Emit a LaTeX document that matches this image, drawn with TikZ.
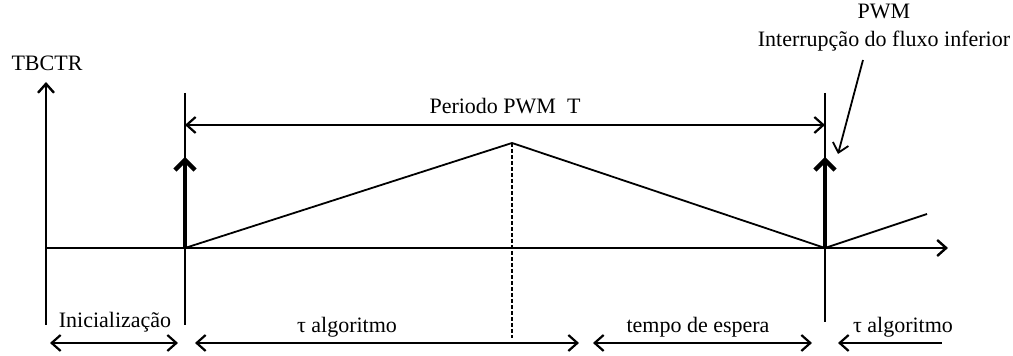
\documentclass[tikz,border=0pt]{standalone}
\usepackage{fontspec}
\setmainfont{Liberation Serif}
\usetikzlibrary{arrows.meta,positioning}

\begin{document}
\begin{tikzpicture}[x=0.5pt,y=-0.5pt,>={Straight Barb[length=4.5pt,width=8pt]}, every node/.style={font=\fontsize{11}{13}\selectfont,inner sep=1pt}]
\useasboundingbox (0,0) rectangle (1013,356);
% eixos
\coordinate (o) at (46,248);
\coordinate (ytop) at (46,82);
\coordinate (ybot) at (46,325);
\coordinate (xend) at (948,248);
\node (tbctr) at (47,63) {TBCTR};
\draw[line width=1.2pt,->] (o) -- (ytop);
\draw[line width=1.2pt,->] (o) -- (xend);
\draw[line width=0.8pt] (o) -- (ybot);
% marcas do periodo
\coordinate (a) at (185,248);
\coordinate (atop) at (185,93);
\coordinate (abot) at (185,325);
\coordinate (b) at (825,248);
\coordinate (btop) at (825,93);
\coordinate (bbot) at (825,322);
\coordinate (pk) at (512,143);
\coordinate (pkbot) at (512,338);
\coordinate (nx) at (927,214);
\draw[line width=0.8pt] (atop) -- (abot);
\draw[line width=0.8pt] (btop) -- (bbot);
\draw[line width=2.2pt,-{Straight Barb[length=5pt,width=10pt]}] (a) -- (185,157);
\draw[line width=2.2pt,-{Straight Barb[length=5pt,width=10pt]}] (b) -- (825,157);
% contador
\draw[line width=0.9pt] (a) -- (pk) -- (b) -- (nx);
\draw[line width=0.7pt,dash pattern=on 2pt off 1pt] (pk) -- (pkbot);
% periodo
\coordinate (p1) at (185,125);
\coordinate (p2) at (825,125);
\draw[line width=1.1pt,<->] (p1) -- node[above=4pt] (per) {Periodo PWM\ \ T} (p2);
% interrupcao
\node[align=center,font=\fontsize{11}{14}\selectfont] (pwm) at (884,28) {PWM\\Interrupção do fluxo inferior};
\coordinate (irq) at (838,154);
\draw[line width=0.9pt,->] (863,60) -- (irq);
% intervalos
\node (ini) at (115,322) {Inicialização};
\node (alg1) at (347,327) {τ algoritmo};
\node (esp) at (698,327) {tempo de espera};
\node (alg2) at (903,327) {τ algoritmo};
\draw[line width=1.1pt,<->] (50,343) -- (178,343);
\draw[line width=1.1pt,<->] (195,343) -- (579,343);
\draw[line width=1.1pt,<->] (593,343) -- (812,343);
\draw[line width=1.1pt,<-] (838,343) -- (942,343);
\end{tikzpicture}
\end{document}
